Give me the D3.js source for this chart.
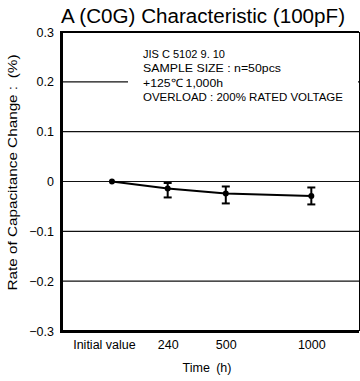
<!DOCTYPE html>
<html lang="en">

<head>
    <meta charset="UTF-8">
    <title>A (C0G) Characteristic (100pF)</title>
    <script src="https://unpkg.com/d3@7.8.0/dist/d3.min.js"></script>
    <style>
        body {
            margin: 0px;
            background: #fff;
        }

        text {
            font-family: "Liberation Sans", Arial, sans-serif;
            fill: #000;
        }
    </style>
</head>

<body>
    <script>
        // data
        const categories = ['Initial value', '240', '500', '1000'];
        const meanChange = [0, -0.014, -0.024, -0.029];
        const errHigh = [0, -0.003, -0.010, -0.012];
        const errLow = [0, -0.032, -0.044, -0.046];
        const yTicks = [-0.3, -0.2, -0.1, 0, 0.1, 0.2, 0.3];
        const notes = ['JIS C 5102 9. 10', 'SAMPLE SIZE : n=50pcs', '+125\u2103 1,000h', 'OVERLOAD : 200% RATED VOLTAGE'];

        // horizontal slot of each category, as a share of the plot width
        const xSlots = [0.171, 0.358, 0.553, 0.84];

        const width = 360;
        const height = 381;
        const margin = { top: 32, right: 1, bottom: 50, left: 61 };
        const innerwidth = width - margin.left - margin.right;
        const innerheight = height - margin.top - margin.bottom;

        const svg = d3.select('body').append('svg')
            .attr('width', width)
            .attr('height', height);

        svg.append('text')
            .attr('x', 203)
            .attr('y', 23)
            .attr('text-anchor', 'middle')
            .attr('textLength', 284)
            .attr('lengthAdjust', 'spacingAndGlyphs')
            .style('font-size', '20px')
            .text('A (C0G) Characteristic (100pF)');

        const g = svg.append('g')
            .attr('transform', `translate(${margin.left}, ${margin.top})`);

        const xScale = d3.scaleOrdinal()
            .domain(categories)
            .range(xSlots.map(f => f * innerwidth));

        const yScale = d3.scaleLinear()
            .domain([-0.3, 0.3])
            .range([innerheight, 0]);

        // grid lines
        g.selectAll('.grid').data(yTicks.filter(d => d > -0.3 && d < 0.3))
            .enter().append('line')
            .attr('class', 'grid')
            .attr('x1', 0)
            .attr('x2', innerwidth)
            .attr('y1', d => yScale(d))
            .attr('y2', d => yScale(d))
            .attr('stroke', '#111')
            .attr('stroke-width', 1.2);

        // note box covers the grid line behind it
        g.append('rect')
            .attr('x', 67)
            .attr('y', 12)
            .attr('width', innerwidth - 68)
            .attr('height', 72)
            .attr('fill', '#fff');

        g.selectAll('.note').data(notes)
            .enter().append('text')
            .attr('class', 'note')
            .attr('x', 82)
            .attr('y', (d, i) => 26 + i * 14.3)
            .style('font-size', '11.5px')
            .attr('textLength', (d, i) => [82, 138, 80, 200][i])
            .attr('lengthAdjust', 'spacingAndGlyphs')
            .text(d => d);

        // frame
        const frame = [
            { x1: 0, y1: 0, x2: innerwidth, y2: 0, w: 2 },
            { x1: innerwidth, y1: 0, x2: innerwidth, y2: innerheight, w: 1 },
            { x1: -1, y1: innerheight, x2: innerwidth, y2: innerheight, w: 3 },
            { x1: 0, y1: -1, x2: 0, y2: innerheight + 1, w: 3 }
        ];
        g.selectAll('.frame').data(frame)
            .enter().append('line')
            .attr('class', 'frame')
            .attr('x1', d => d.x1).attr('y1', d => d.y1)
            .attr('x2', d => d.x2).attr('y2', d => d.y2)
            .attr('stroke', '#000')
            .attr('shape-rendering', 'crispEdges')
            .attr('stroke-width', d => d.w);

        // y axis
        const yAxis = d3.axisLeft(yScale)
            .tickValues(yTicks)
            .tickFormat(d3.format('.1~f'))
            .tickSize(0)
            .tickPadding(7);
        const yAxisG = g.append('g').call(yAxis);
        yAxisG.select('.domain').remove();
        yAxisG.selectAll('.tick text')
            .style('font-size', '12.5px')
            .style('font-family', '"Liberation Sans", Arial, sans-serif')
            .attr('fill', '#000');

        // x axis
        const xAxis = d3.axisBottom(xScale)
            .tickSize(0)
            .tickPadding(9);
        const xAxisG = g.append('g')
            .attr('transform', `translate(0, ${innerheight})`)
            .call(xAxis);
        xAxisG.select('.domain').remove();
        xAxisG.selectAll('.tick text')
            .style('font-size', '12.5px')
            .style('font-family', '"Liberation Sans", Arial, sans-serif')
            .attr('fill', '#000')
            .attr('dx', d => d === categories[0] ? -8 : 0);

        // axis labels
        g.append('text')
            .attr('x', 146)
            .attr('y', innerheight + 41)
            .attr('text-anchor', 'middle')
            .style('font-size', '12.5px')
            .text('Time\u2002(h)');

        g.append('text')
            .attr('transform', 'rotate(-90)')
            .attr('x', -(innerheight / 2 - 9))
            .attr('y', -44)
            .attr('text-anchor', 'middle')
            .attr('textLength', 236)
            .attr('lengthAdjust', 'spacingAndGlyphs')
            .style('font-size', '12.5px')
            .text('Rate of Capacitance Change :\u2002(%)');

        // series
        const points = categories.map((c, i) => ({
            c, v: meanChange[i], hi: errHigh[i], lo: errLow[i]
        }));

        const line = d3.line()
            .x(d => xScale(d.c))
            .y(d => yScale(d.v));

        g.append('path')
            .datum(points)
            .attr('d', line)
            .attr('fill', 'none')
            .attr('stroke', '#000')
            .attr('stroke-width', 2);

        const bars = g.selectAll('.err').data(points.filter(d => d.hi !== d.lo))
            .enter().append('g')
            .attr('class', 'err')
            .attr('stroke', '#000')
            .attr('stroke-width', 2);
        bars.append('line')
            .attr('x1', d => xScale(d.c)).attr('x2', d => xScale(d.c))
            .attr('y1', d => yScale(d.hi)).attr('y2', d => yScale(d.lo));
        bars.selectAll('.cap').data(d => [[d.c, d.hi], [d.c, d.lo]])
            .enter().append('line')
            .attr('class', 'cap')
            .attr('x1', d => xScale(d[0]) - 4).attr('x2', d => xScale(d[0]) + 4)
            .attr('y1', d => yScale(d[1])).attr('y2', d => yScale(d[1]));

        g.selectAll('.dot').data(points)
            .enter().append('circle')
            .attr('class', 'dot')
            .attr('cx', d => xScale(d.c))
            .attr('cy', d => yScale(d.v))
            .attr('r', 3)
            .attr('fill', '#000');
    </script>
</body>

</html>
